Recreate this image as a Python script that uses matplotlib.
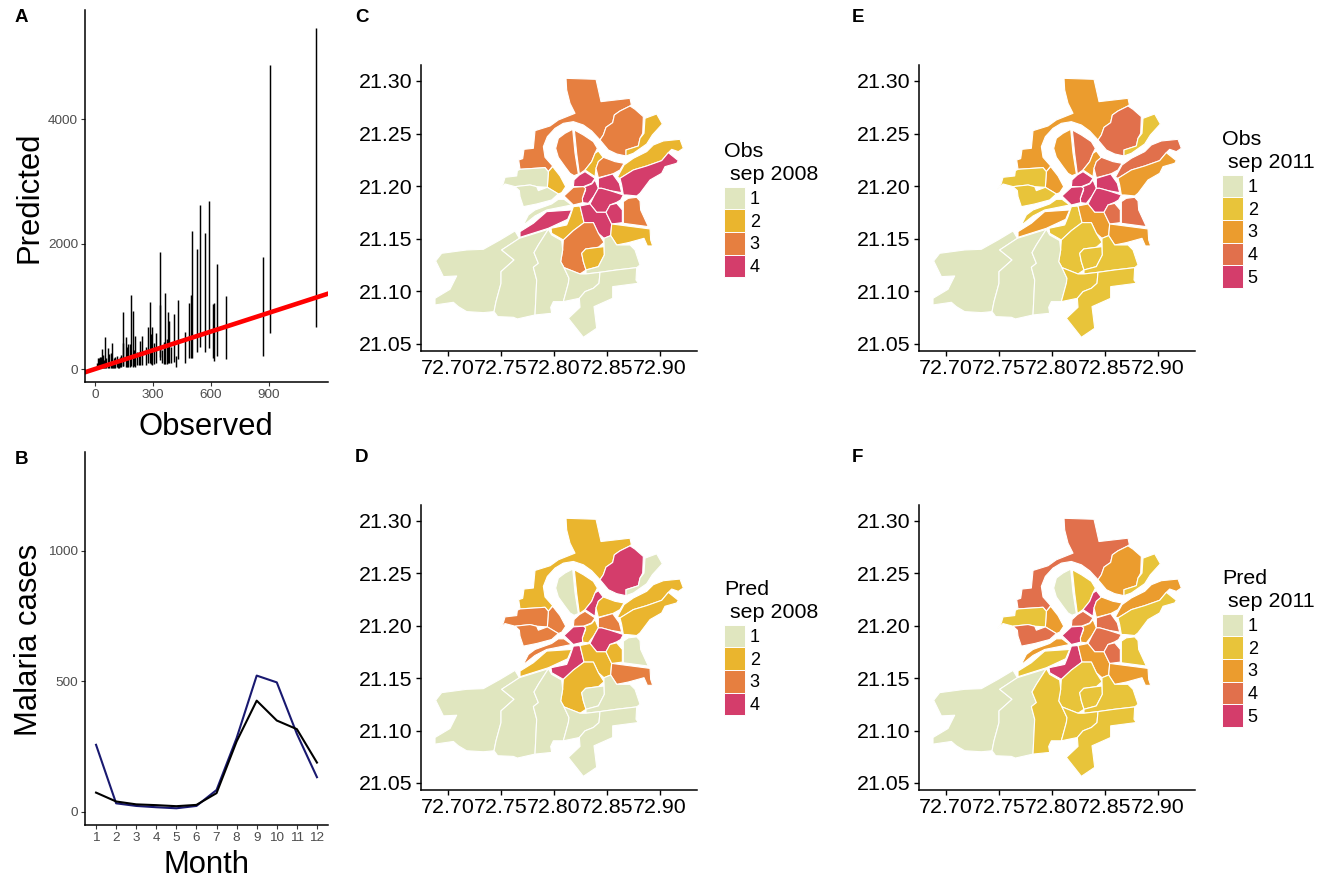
import matplotlib
matplotlib.use('Agg')
import matplotlib.pyplot as plt
from matplotlib.patches import Patch

plt.rcParams['font.family'] = ['Liberation Sans', 'DejaVu Sans']

W = 1332.0
H = 881.0

# panel A: observed value with predicted interval
obs = [868, 905, 1145, 675, 633, 616, 609, 592, 571, 543, 528, 502, 495, 484, 467, 429, 417, 410,
       382, 375, 363, 355, 334, 334, 315, 294, 282, 273, 242, 234, 208, 194, 187, 173, 159, 147,
       142, 130, 112, 95, 87, 74, 66, 52, 35, 26, 17, 9, 120, 216, 262, 303, 345, 395,
       20, 30, 40, 45, 58, 80, 100, 105, 118, 125, 135, 165, 180, 200, 225, 290, 370]
pred_hi = [1787, 4870, 5450, 1173, 1674, 1061, 1040, 2682, 2170, 2618, 1914, 2208, 1184, 1061, 597, 1104, 208, 874,
           773, 917, 1221, 426, 1866, 1024, 581, 666, 1066, 677, 533, 453, 528, 933, 1189, 400, 506, 906,
           421, 190, 213, 130, 410, 240, 330, 506, 314, 187, 170, 90, 150, 280, 360, 420, 300, 350,
           180, 200, 230, 150, 180, 260, 170, 190, 130, 160, 230, 350, 400, 300, 270, 560, 480]
pred_lo = [213, 570, 677, 165, 208, 133, 170, 330, 277, 346, 277, 181, 181, 170, 90, 160, 37, 117,
           90, 101, 80, 75, 144, 200, 101, 64, 90, 101, 64, 64, 37, 37, 48, 37, 37, 48,
           48, 30, 27, 20, 11, 11, 11, 11, 27, 27, 20, 20, 30, 60, 70, 80, 90, 100,
           15, 20, 20, 15, 15, 15, 20, 20, 15, 20, 25, 40, 40, 50, 60, 80, 85]

# panel B
months = [1, 2, 3, 4, 5, 6, 7, 8, 9, 10, 11, 12]
cases_pred = [257, 33, 23, 18, 14, 23, 84, 283, 522, 496, 299, 133]
cases_obs = [74, 40, 29, 26, 22, 27, 72, 270, 426, 350, 317, 189]

# ward outlines, traced on a grid of 1/3180 degree, see to_lonlat
ward_north = [(438, 25), (528, 28), (543, 95), (630, 85), (634, 104), (630, 108), (600, 123), (583, 135), (578, 158), (558, 172), (550, 195), (540, 210), (515, 183), (490, 165), (460, 155), (430, 160), (405, 175), (382, 200), (370, 230), (375, 262), (398, 288), (385, 305), (375, 293), (300, 298), (296, 270), (308, 266), (312, 238), (340, 235), (345, 182), (390, 168), (415, 150), (465, 130), (450, 100), (440, 60)]
ward_ne = [(630, 108), (645, 118), (670, 140), (668, 190), (660, 205), (655, 228), (618, 240), (618, 258), (590, 252), (565, 240), (540, 210), (550, 195), (558, 172), (578, 158), (583, 135), (600, 123)]
ward_far_ne = [(675, 145), (710, 132), (727, 162), (697, 195), (680, 222), (640, 250), (618, 258), (618, 240), (655, 228), (660, 205), (672, 190)]
ward_loop_w = [(458, 178), (465, 250), (475, 312), (462, 317), (450, 310), (435, 290), (415, 262), (407, 235), (415, 205), (435, 190)]
ward_loop_e = [(463, 180), (490, 195), (520, 215), (532, 235), (525, 250), (515, 275), (495, 300), (478, 312), (470, 250)]
ward_narrow = [(535, 243), (550, 263), (535, 275), (528, 295), (525, 320), (495, 300), (515, 275), (525, 250)]
ward_river_e = [(550, 262), (585, 275), (612, 280), (600, 300), (578, 312), (535, 323), (528, 295), (535, 275)]
ward_corr_up = [(780, 208), (790, 235), (775, 245), (755, 238), (745, 248), (725, 272), (680, 288), (640, 300), (600, 325), (592, 322), (612, 285), (640, 265), (680, 245), (700, 225), (730, 213)]
ward_corr_lo = [(745, 248), (775, 272), (770, 280), (735, 290), (725, 310), (690, 330), (660, 370), (650, 378), (620, 375), (610, 375), (605, 345), (600, 325), (640, 300), (680, 288), (725, 272)]
ward_core_e = [(535, 325), (578, 312), (598, 340), (605, 368), (570, 362), (545, 355), (535, 355)]
ward_core_n = [(462, 330), (478, 315), (495, 305), (525, 325), (515, 340), (490, 350), (460, 350)]
ward_core_c = [(490, 352), (515, 342), (525, 330), (535, 355), (522, 378), (505, 400), (488, 398), (487, 385), (497, 360)]
ward_core_s = [(535, 355), (545, 355), (570, 362), (610, 375), (602, 390), (590, 397), (570, 405), (558, 427), (530, 427), (510, 402), (522, 378)]
ward_core_w = [(460, 352), (490, 350), (497, 355), (487, 385), (488, 398), (460, 405), (432, 378)]
ward_bank = [(385, 305), (398, 290), (420, 318), (437, 350), (425, 368), (415, 372), (382, 352)]
ward_west_up = [(255, 322), (290, 318), (292, 302), (300, 298), (375, 293), (385, 305), (382, 352), (350, 350), (330, 345), (285, 350), (255, 342), (238, 358), (250, 340)]
ward_west_lo = [(285, 350), (330, 345), (350, 350), (355, 362), (382, 352), (415, 372), (395, 390), (350, 402), (310, 410), (300, 380), (298, 362)]
ward_sw_strip = [(415, 388), (432, 388), (455, 405), (380, 420), (345, 438), (320, 458), (295, 478), (310, 465), (325, 435), (345, 420), (395, 402)]
ward_sw_road = [(300, 485), (340, 460), (380, 425), (455, 420), (443, 448), (385, 475), (300, 502)]
ward_y = [(460, 410), (480, 408), (492, 458), (460, 482), (430, 510), (395, 490), (393, 475), (440, 465), (450, 440)]
ward_s_core = [(480, 408), (510, 402), (530, 427), (558, 427), (575, 462), (572, 497), (552, 505), (535, 490), (520, 458), (492, 458)]
ward_s_east = [(558, 427), (570, 405), (590, 400), (607, 420), (607, 458), (575, 462)]
ward_east = [(610, 395), (625, 385), (650, 382), (660, 393), (662, 420), (685, 470), (610, 460), (610, 420)]
ward_se_block = [(575, 462), (690, 477), (692, 510), (698, 528), (682, 528), (672, 505), (625, 518), (590, 525), (572, 497)]
ward_south = [(492, 458), (520, 458), (535, 490), (552, 517), (535, 532), (497, 537), (485, 550), (490, 575), (498, 600), (480, 612), (432, 593), (422, 575), (428, 540), (430, 510), (460, 482)]
ward_small = [(497, 537), (535, 532), (552, 530), (553, 555), (535, 590), (498, 600), (490, 575), (485, 550)]
ward_se = [(572, 497), (590, 525), (630, 525), (645, 540), (660, 585), (650, 593), (590, 600), (540, 607), (498, 612), (498, 600), (535, 590), (553, 555), (552, 517), (552, 505)]
ward_far_w = [(298, 505), (245, 540), (282, 570), (243, 605), (243, 640), (228, 695), (222, 725), (190, 728), (140, 725), (115, 710), (100, 697), (45, 705), (45, 685), (90, 658), (110, 618), (70, 620), (47, 573), (65, 550), (140, 540), (190, 538), (240, 510), (285, 483)]
ward_mid_w = [(385, 478), (298, 505), (245, 540), (282, 570), (243, 605), (243, 640), (228, 695), (222, 725), (233, 740), (280, 742), (292, 747), (345, 735), (350, 630), (340, 592), (355, 580), (342, 548), (355, 525)]
ward_mid_s = [(385, 478), (395, 495), (425, 512), (428, 540), (422, 575), (432, 593), (447, 625), (445, 640), (430, 695), (400, 695), (392, 712), (395, 730), (345, 735), (350, 630), (340, 592), (355, 580), (342, 548), (355, 525)]
ward_low_w = [(432, 593), (480, 612), (498, 612), (540, 607), (537, 640), (520, 655), (495, 665), (478, 685), (430, 695), (445, 640), (447, 625)]
ward_low_e = [(540, 607), (590, 600), (650, 593), (648, 630), (655, 640), (578, 650), (578, 685), (522, 710), (530, 775), (490, 802), (445, 745), (480, 712), (478, 685), (495, 665), (520, 655), (537, 640)]

wards = [ward_north, ward_ne, ward_far_ne, ward_loop_w, ward_loop_e, ward_narrow, ward_river_e, ward_corr_up,
         ward_corr_lo, ward_core_e, ward_core_n, ward_core_c, ward_core_s, ward_core_w, ward_bank, ward_west_up,
         ward_west_lo, ward_sw_strip, ward_sw_road, ward_y, ward_s_core, ward_s_east, ward_east, ward_se_block,
         ward_south, ward_small, ward_se, ward_far_w, ward_mid_w, ward_mid_s, ward_low_w, ward_low_e]

# class of each ward, same order as wards
obs_2008 = [3, 3, 2, 3, 3, 2, 3, 2, 4, 4, 4, 4, 4, 3, 2, 1, 1, 1, 4, 2, 4, 4, 3, 2, 3, 2, 1, 1, 1, 1, 1, 1]
pred_2008 = [2, 4, 1, 1, 2, 4, 2, 2, 2, 3, 3, 2, 4, 4, 3, 3, 3, 3, 2, 4, 2, 2, 1, 3, 2, 1, 1, 1, 1, 1, 1, 1]
obs_2011 = [3, 4, 2, 3, 4, 3, 4, 4, 3, 5, 5, 5, 5, 5, 3, 2, 2, 2, 3, 2, 3, 4, 4, 3, 2, 2, 2, 1, 1, 1, 2, 2]
pred_2011 = [4, 3, 2, 1, 2, 5, 3, 3, 2, 4, 4, 3, 4, 5, 3, 2, 4, 3, 2, 5, 3, 4, 2, 3, 2, 2, 2, 1, 1, 2, 2, 2]

colors_4 = ['#E0E6BF', '#EAB52E', '#E67F40', '#D43D6B']
colors_5 = ['#E0E6BF', '#E8C43A', '#EB9C2E', '#E1704C', '#D43D6B']

lon_ticks = [72.70, 72.75, 72.80, 72.85, 72.90]
lat_ticks = [21.05, 21.10, 21.15, 21.20, 21.25, 21.30]


def to_lonlat(pts):
    xs = [72.70 + (p[0] / 3.0 - 28) / 1060.0 for p in pts]
    ys = [21.30 - (p[1] / 3.0 - 11) / 1052.0 for p in pts]
    return xs, ys


def make_axes(left, right, top, bottom):
    return fig.add_axes([left / W, 1 - bottom / H, (right - left) / W, (bottom - top) / H])


def clean(ax, lw=1.1):
    ax.spines['top'].set_visible(False)
    ax.spines['right'].set_visible(False)
    ax.spines['left'].set_linewidth(lw)
    ax.spines['bottom'].set_linewidth(lw)


def draw_map(left, top, bottom, classes, colors, title, leg_top):
    ax = make_axes(left, left + 276, top, bottom)
    for ward, c in zip(wards, classes):
        xs, ys = to_lonlat(ward)
        ax.fill(xs, ys, facecolor=colors[c - 1], edgecolor='white', linewidth=0.8, joinstyle='round')
    ax.set_xlim(72.6745, 72.9349)
    ax.set_ylim(21.0433, 21.3152)
    ax.set_xticks(lon_ticks)
    ax.set_xticklabels(['%.2f' % v for v in lon_ticks])
    ax.set_yticks(lat_ticks)
    ax.set_yticklabels(['%.2f' % v for v in lat_ticks])
    ax.tick_params(labelsize=15.4, length=3.5, width=1, pad=2.5, colors='black')
    clean(ax)
    handles = [Patch(facecolor=col, edgecolor='white', linewidth=0.7) for col in colors]
    labels = [str(i + 1) for i in range(len(colors))]
    leg = fig.legend(handles, labels, title=title, title_fontsize=15.4, fontsize=13,
                     loc='upper left', bbox_to_anchor=((left + 303) / W, 1 - leg_top / H),
                     frameon=False, handlelength=1.17, handleheight=1.55, labelspacing=0,
                     handletextpad=0.25, borderpad=0, borderaxespad=0, alignment='left')
    leg._legend_box.sep = 2.2
    leg.get_title().set_linespacing(1.25)
    return ax


fig = plt.figure(figsize=(W / 100, H / 100), dpi=100)
fig.patch.set_facecolor('white')

# A
ax_a = make_axes(85, 328, 10, 382)
ax_a.vlines(obs, pred_lo, pred_hi, color='black', linewidth=1.05)
ax_a.axline((0, 0), slope=1, color='#FF0000', linewidth=3.3)
ax_a.set_xlim(-52, 1205)
ax_a.set_ylim(-208, 5744)
ax_a.set_xticks([0, 300, 600, 900])
ax_a.set_yticks([0, 2000, 4000])
ax_a.tick_params(labelsize=9.7, labelcolor='#4D4D4D', length=3, width=0.8, color='#333333', pad=2)
clean(ax_a)
ax_a.set_xlabel('Observed', fontsize=22.3, va='center')
ax_a.xaxis.set_label_coords((206 - 85) / 243.0, -(427 - 382) / 372.0)
ax_a.set_ylabel('Predicted', fontsize=22.3, va='center')
ax_a.yaxis.set_label_coords(-(85 - 29) / 243.0, (382 - 197) / 372.0)

# B
ax_b = make_axes(85, 328, 452, 825)
ax_b.plot(months, cases_pred, color='#191970', linewidth=1.5)
ax_b.plot(months, cases_obs, color='black', linewidth=1.5)
ax_b.set_xlim(0.45, 12.55)
ax_b.set_ylim(-50, 1378)
ax_b.set_xticks(months)
ax_b.set_yticks([0, 500, 1000])
ax_b.tick_params(labelsize=9.7, labelcolor='#4D4D4D', length=3, width=0.8, color='#333333', pad=2)
clean(ax_b)
ax_b.set_xlabel('Month', fontsize=22.3, va='center')
ax_b.xaxis.set_label_coords((206 - 85) / 243.0, -(865 - 825) / 373.0)
ax_b.set_ylabel('Malaria cases', fontsize=22.3, va='center')
ax_b.yaxis.set_label_coords(-(85 - 29) / 243.0, (825 - 640) / 373.0)

# maps
draw_map(421, 65, 351, obs_2008, colors_4, 'Obs\n sep 2008', 142)
draw_map(421, 505, 790, pred_2008, colors_4, 'Pred\n sep 2008', 580)
draw_map(919, 65, 351, obs_2011, colors_5, 'Obs\n sep 2011', 130)
draw_map(919, 505, 790, pred_2011, colors_5, 'Pred\n sep 2011', 569)

panel_letters = ['A', 'B', 'C', 'D', 'E', 'F']
letter_x = [15, 15, 355, 355, 852, 852]
letter_y = [18, 460, 18, 457, 18, 457]
for s, x, y in zip(panel_letters, letter_x, letter_y):
    fig.text(x / W, 1 - y / H, s, fontsize=13.5, fontweight='bold', ha='left', va='center')

plt.savefig('out.png', dpi=100)
